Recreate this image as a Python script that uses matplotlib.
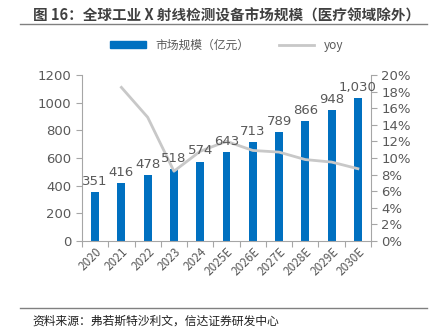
import matplotlib
matplotlib.use("Agg")
import matplotlib.pyplot as plt
from matplotlib.lines import Line2D

plt.rcParams['font.family'] = ['Noto Sans CJK SC', 'DejaVu Sans']

years = ["2020", "2021", "2022", "2023", "2024", "2025E", "2026E",
         "2027E", "2028E", "2029E", "2030E"]
market = [351, 416, 478, 518, 574, 643, 713, 789, 866, 948, 1030]
yoy = [None, 18.5, 14.9, 8.4, 10.8, 12.0, 10.9, 10.7, 9.8, 9.5, 8.7]

blue = "#0070C0"
grey_line = "#C8C8C8"
txt = "#595959"
spine = "#A6A6A6"

fig = plt.figure(figsize=(4.36, 3.36), dpi=100)
ax = fig.add_axes([0.188, 0.283, 0.663, 0.494])
par = ax.twinx()

x = list(range(len(years)))
ax.bar(x, market, 0.3, color=blue, zorder=2)

xs = [i for i, v in zip(x, yoy) if v is not None]
ys = [v for v in yoy if v is not None]
par.plot(xs, ys, color=grey_line, lw=2, zorder=3)

# value labels sit above the yoy line
for i, v in enumerate(market):
    par.text(i, v + 30, f"{v:,}", ha='center', va='bottom', fontsize=9.5,
             color=txt, family='DejaVu Sans', transform=ax.transData, zorder=5)

ax.set_xlim(-0.5, len(years) - 0.5)
ax.set_ylim(0, 1200)
ax.set_yticks(range(0, 1201, 200))
par.set_ylim(0, 20)
par.set_yticks(range(0, 21, 2))
par.set_yticklabels([f"{t}%" for t in range(0, 21, 2)])

ax.set_xticks([i - 0.5 for i in range(len(years) + 1)], minor=False)
ax.set_xticklabels([])
ax.set_xticks(x, minor=True)
ax.set_xticklabels(years, minor=True, rotation=45, ha='right',
                   rotation_mode='anchor', fontsize=8.5, color=txt)
ax.tick_params(axis='x', which='minor', length=0, pad=3)
ax.tick_params(axis='x', which='major', length=4, color=spine)

for a in (ax, par):
    a.spines['top'].set_visible(False)
    for s in ('left', 'right', 'bottom'):
        a.spines[s].set_color(spine)
    a.tick_params(axis='y', labelsize=9.5, labelcolor=txt, color=spine, length=4)
ax.spines['right'].set_visible(False)
par.spines['left'].set_visible(False)
par.spines['bottom'].set_visible(False)
for lab in ax.get_yticklabels() + par.get_yticklabels():
    lab.set_family('DejaVu Sans')

handles = [plt.Rectangle((0, 0), 1, 1, color=blue),
           Line2D([0], [0], color=grey_line, lw=2)]
fig.legend(handles, ["市场规模（亿元）", "yoy"], loc='center',
           bbox_to_anchor=(0.52, 0.865), ncol=2, frameon=False, fontsize=8.5,
           labelcolor=txt, handlelength=3.0, handleheight=0.5, columnspacing=2.5)

fig.text(0.52, 0.955, "图 16：全球工业 X 射线检测设备市场规模（医疗领域除外）",
         ha='center', va='center', fontsize=10.5, fontweight='bold', color="#404040")
fig.add_artist(Line2D([0.045, 0.98], [0.928, 0.928], color="#808080", lw=1))
fig.add_artist(Line2D([0.045, 0.98], [0.083, 0.083], color="#808080", lw=1))
fig.text(0.075, 0.045, "资料来源：弗若斯特沙利文，信达证券研发中心",
         ha='left', va='center', fontsize=8.5, style='italic', color="#202020")

fig.savefig("out.png", dpi=100)
